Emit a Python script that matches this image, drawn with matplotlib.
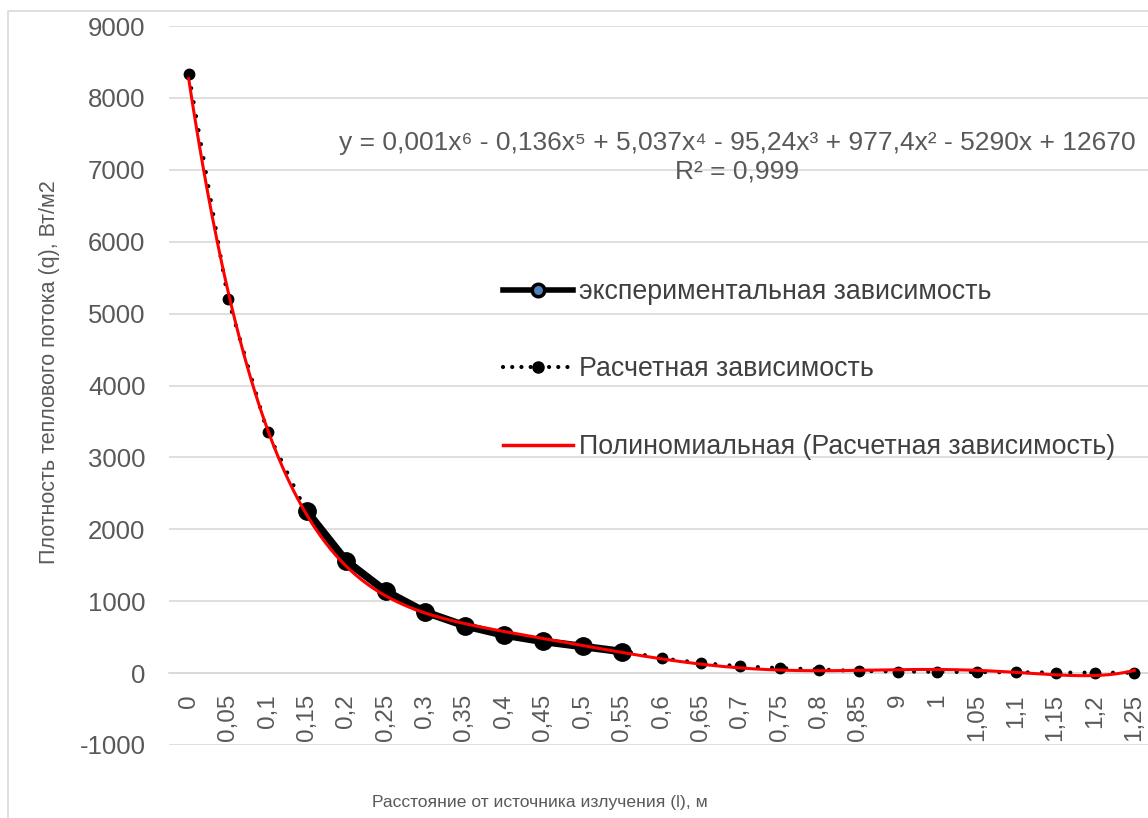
import matplotlib.pyplot as plt
import numpy as np
from matplotlib.lines import Line2D
from matplotlib.patches import Rectangle

plt.rcParams["font.family"] = ["Liberation Sans", "DejaVu Sans"]

# подписи категорий (как в исходной таблице, включая "9")
categories = ["0", "0,05", "0,1", "0,15", "0,2", "0,25", "0,3", "0,35", "0,4", "0,45",
              "0,5", "0,55", "0,6", "0,65", "0,7", "0,75", "0,8", "0,85", "9", "1",
              "1,05", "1,1", "1,15", "1,2", "1,25"]

# расчетная зависимость, Вт/м2
q_calc = [8330, 5200, 3350, 2230, 1550, 1130, 850, 655, 520, 440,
          370, 310, 205, 140, 95, 70, 50, 30, 22, 18,
          14, 11, 8, 6, 5]

# экспериментальная зависимость (0,15 ... 0,55 м)
exp_start = 3
q_exp = [2250, 1560, 1140, 850, 660, 530, 440, 370, 300]

yticks = list(range(-1000, 9001, 1000))

equation = "y = 0,001x⁶ - 0,136x⁵ + 5,037x⁴ - 95,24x³ + 977,4x² - 5290x + 12670"
r2_text = "R² = 0,999"

TEXT = "#595959"
GRID = "#D9D9D9"


def main():
    W, H = 1148, 818
    fig = plt.figure(figsize=(W / 100, H / 100), dpi=100)
    ax = fig.add_axes([169 / W, 1 - 745 / H, (1154 - 169) / W, (745 - 26) / H])

    # рамка диаграммы
    fig.patches.append(Rectangle((8 / W, -0.1), 1.2, 1 - 11 / H + 0.1,
                                 transform=fig.transFigure, fill=False,
                                 edgecolor=GRID, lw=1.2))

    x = np.arange(len(categories))
    x_exp = x[exp_start:exp_start + len(q_exp)]

    ax.plot(x_exp, q_exp, color="black", lw=5.5, marker="o", ms=12.5,
            mfc="black", mec="black", zorder=3, solid_capstyle="round")
    ax.plot(x, q_calc, color="black", lw=3, linestyle=(0, (0.01, 3.4)),
            dash_capstyle="round", marker="o", ms=7.5, mfc="black",
            mec="black", zorder=4)

    # полиномиальный тренд 6-й степени (как в Excel: x = 1..n)
    xi = x + 1
    coef = np.polyfit(xi, q_calc, 6)
    xs = np.linspace(xi[0], xi[-1], 400)
    ax.plot(xs - 1, np.polyval(coef, xs), color="#FF0000", lw=2.2, zorder=5)

    ax.set_xlim(-0.5, len(categories) - 0.5)
    ax.set_ylim(-1000, 9000)
    ax.set_yticks(yticks)
    ax.set_yticklabels([str(v) for v in yticks])
    ax.yaxis.grid(True, color=GRID, lw=1.2)
    ax.set_axisbelow(True)
    for s in ["top", "right", "left"]:
        ax.spines[s].set_visible(False)
    ax.spines["bottom"].set_position(("data", 0))
    ax.spines["bottom"].set_color(GRID)
    ax.spines["bottom"].set_linewidth(1.2)

    ax.set_xticks(x)
    ax.set_xticklabels(categories, rotation=90)
    ax.tick_params(axis="x", length=0, pad=15, labelsize=17.5, labelcolor=TEXT)
    ax.tick_params(axis="y", length=0, pad=17, labelsize=18.5, labelcolor=TEXT)

    fig.text(540 / W, 1 - 803 / H, "Расстояние от источника излучения (l), м",
             ha="center", va="center", fontsize=12.6, color=TEXT)
    fig.text(50 / W, 1 - 372 / H, "Плотность теплового потока (q), Вт/м2",
             ha="center", va="center", rotation=90, fontsize=15.5, color=TEXT)

    fig.text(737 / W, 1 - 143 / H, equation, ha="center", va="center",
             fontsize=19, color=TEXT)
    fig.text(737 / W, 1 - 172 / H, r2_text, ha="center", va="center",
             fontsize=19, color=TEXT)

    handles = [
        Line2D([], [], color="black", lw=4, marker="o", ms=9, mfc="#4F81BD",
               mec="black", mew=2.5),
        Line2D([], [], color="black", lw=3, linestyle=(0, (0.01, 2.2)),
               dash_capstyle="round", marker="o", ms=8, mfc="black", mec="black"),
        Line2D([], [], color="#FF0000", lw=2.5),
    ]
    labels = ["экспериментальная зависимость", "Расчетная зависимость",
              "Полиномиальная (Расчетная зависимость)"]
    ax.legend(handles, labels, loc="upper left",
              bbox_to_anchor=(503 / W, 1 - 279 / H), bbox_transform=fig.transFigure,
              frameon=False, fontsize=19.3, labelcolor="#404040",
              handlelength=2.6, handletextpad=0.22, labelspacing=1.92,
              borderpad=0, borderaxespad=0)

    fig.savefig("out.png", dpi=100)


if __name__ == "__main__":
    main()
